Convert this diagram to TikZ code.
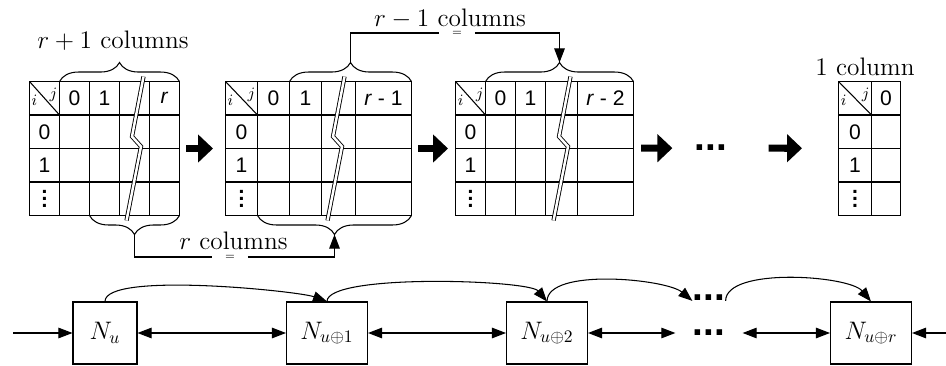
\documentclass[tikz,border=0pt]{standalone}
\usepackage{amsmath, amssymb}
\usepackage{fontspec}
\setsansfont{Liberation Sans}
\usetikzlibrary{positioning}
\usetikzlibrary{positioning,calc,arrows.meta,matrix,decorations.pathreplacing}

\newcommand{\rowdots}{\vbox{\baselineskip=4pt\lineskiplimit=-10pt\hbox{\bfseries.}\hbox{\bfseries.}\hbox{\bfseries.}}}

\begin{document}
\begin{tikzpicture}[
        x=0.02cm, y=0.02cm, line width=0.6pt,
        cell/.style={draw, rectangle, anchor=center, minimum width=0.6cm, minimum height=0.67cm, inner sep=0pt, outer sep=0pt, font=\sffamily\fontsize{12}{14}\selectfont},
        tab/.style={matrix of nodes, nodes in empty cells, nodes={cell}, column sep=-0.6pt, row sep=-0.6pt, inner sep=0pt, outer sep=0pt},
        idx/.style={inner sep=0pt, font=\fontsize{9}{10}\selectfont},
        cut/.style={double, double distance=1.4pt, line width=0.5pt},
        colbrace/.style={decorate, decoration={brace, amplitude=0.38cm}},
        lbl/.style={anchor=base, inner sep=0pt, font=\fontsize{14.4}{17}\selectfont},
        eq/.style={inner xsep=0.25cm, inner ysep=0pt, font=\fontsize{6}{7}\selectfont},
        hdots/.style={inner sep=0pt, font=\sffamily\bfseries\fontsize{22}{26}\selectfont},
        box/.style={draw, rectangle, minimum width=1.62cm, minimum height=1.24cm, inner sep=0pt, font=\fontsize{14.4}{17}\selectfont},
        bigarrow/.style={-{Triangle[length=8.5pt,width=15.5pt]}, line width=4pt},
        arrow/.style={-{Triangle[length=8pt,width=6pt]}},
        darrow/.style={{Triangle[length=8pt,width=6pt]}-{Triangle[length=8pt,width=6pt]}}
    ]
        \useasboundingbox (0,0) rectangle (946,365);

        % Tables
        \matrix (t1) [tab, matrix anchor=north west] at (29,284) {
            & 0 & 1 & & \textit{r} \\
            0 & & & & \\
            1 & & & & \\
            \rowdots & & & & \\
        };
        \matrix (t2) [tab, matrix anchor=north west, nodes={minimum width=0.64cm},
            column 4/.style={nodes={minimum width=0.68cm}},
            column 5/.style={nodes={minimum width=1.12cm}}] at (225,284) {
            & 0 & 1 & & \textit{r} - 1 \\
            0 & & & & \\
            1 & & & & \\
            \rowdots & & & & \\
        };
        \matrix (t3) [tab, matrix anchor=north west,
            column 4/.style={nodes={minimum width=0.64cm}},
            column 5/.style={nodes={minimum width=1.12cm}}] at (455,284) {
            & 0 & 1 & & \textit{r} - 2 \\
            0 & & & & \\
            1 & & & & \\
            \rowdots & & & & \\
        };
        \matrix (t4) [tab, matrix anchor=north west,
            column 1/.style={nodes={minimum width=0.66cm}},
            column 2/.style={nodes={minimum width=0.58cm}}] at (838,284) {
            & 0 \\
            0 & \\
            1 & \\
            \rowdots & \\
        };

        % Corner cells
        \foreach \tb in {t1,t2,t3,t4} {
            \draw (\tb-1-1.north west) -- (\tb-1-1.south east);
            \node[idx] (\tb-i) at ([shift={(5,15)}]\tb-1-1.south west) {$i$};
            \node[idx] (\tb-j) at ([shift={(-6,-13)}]\tb-1-1.north east) {$j$};
        }

        % Breaks
        \draw[cut] ([shift={(24,5)}]t1-1-4.north west) -- ++(-11.5,-60) -- ++(9,-10) -- ++(-14.5,-74);
        \draw[cut] ([shift={(23,5)}]t2-1-4.north west) -- ++(-11.5,-60) -- ++(9,-10) -- ++(-14.5,-74);
        \draw[cut] ([shift={(25,5)}]t3-1-4.north west) -- ++(-11.5,-60) -- ++(9,-10) -- ++(-14.5,-74);

        % Braces
        \draw[colbrace] (t1-1-2.north west) -- (t1-1-5.north east);
        \draw[colbrace] (t1-4-5.south east) -- (t1-4-3.south west);
        \draw[colbrace] (t2-1-3.north west) -- (t2-1-5.north east);
        \draw[colbrace] (t2-4-5.south east) -- (t2-4-2.south west);
        \draw[colbrace] (t3-1-2.north west) -- (t3-1-5.north east);
        \coordinate (t1bot) at ($(t1-4-3.south west)!0.5!(t1-4-5.south east)+(0,-19)$);
        \coordinate (t2bot) at ($(t2-4-2.south west)!0.5!(t2-4-5.south east)+(0,-19)$);
        \coordinate (t2top) at ($(t2-1-3.north west)!0.5!(t2-1-5.north east)+(0,19)$);
        \coordinate (t3top) at ($(t3-1-2.north west)!0.5!(t3-1-5.north east)+(0,19)$);

        % Labels
        \node[lbl] (lab1) at (113,316.7) {$r+1$ columns};
        \node[lbl] (lab2) at (450,338) {$r-1$ columns};
        \node[lbl] (lab3) at (233.5,115.7) {$r$ columns};
        \node[lbl] (lab4) at (865,289) {1 column};

        % Links between braces
        \node[eq] (eq1) at (230,108) {=};
        \node[eq] (eq2) at (457,332) {=};
        \draw (t1bot) |- (eq1.west);
        \draw[arrow] (eq1.east) -| (t2bot);
        \draw (t2top) |- (eq2.west);
        \draw[arrow] (eq2.east) -| (t3top);

        % Big arrows
        \node[hdots] (dotsA) at (711,217) {...};
        \draw[bigarrow, shorten <=0.12cm, shorten >=0.24cm] (t1) -- (t2);
        \draw[bigarrow, shorten <=0.12cm, shorten >=0.14cm] (t2) -- (t3);
        \draw[bigarrow, shorten <=0.14cm, shorten >=0.44cm] (t3) -- (dotsA);
        \draw[bigarrow, shorten <=0.82cm, shorten >=0.72cm] (dotsA) -- (t4);

        % Chain of nodes
        \node[box, minimum width=1.28cm] (Nu) at (105,32) {$N_u$};
        \node[box] (N1) at (327,32) {$N_{u\oplus 1}$};
        \node[box] (N2) at (547,32) {$N_{u\oplus 2}$};
        \node[hdots, inner xsep=0.34cm] (dotsB) at (709,32) {...};
        \node[box] (Nr) at (871,32) {$N_{u\oplus r}$};
        \node[hdots] (dotsT) at (709,67.5) {...};
        \coordinate (inL) at (13,32);
        \coordinate (inR) at (946,32);

        \draw[arrow] (inL) -- (Nu);
        \draw[darrow] (Nu) -- (N1);
        \draw[darrow] (N1) -- (N2);
        \draw[darrow] (N2) -- (dotsB);
        \draw[darrow] (dotsB) -- (Nr);
        \draw[arrow] (inR) -- (Nr);

        \draw[arrow] (Nu.north) to[out=90, in=160, looseness=0.35] (N1.north);
        \draw[arrow] (N1.north) to[out=90, in=130, looseness=0.33] (N2.north);
        \draw[arrow] (N2.north) to[out=90, in=140, looseness=0.6] (dotsT.south west);
        \draw[arrow] (dotsT.south east) to[out=90, in=130, looseness=0.6] (Nr.north);
\end{tikzpicture}
\end{document}
